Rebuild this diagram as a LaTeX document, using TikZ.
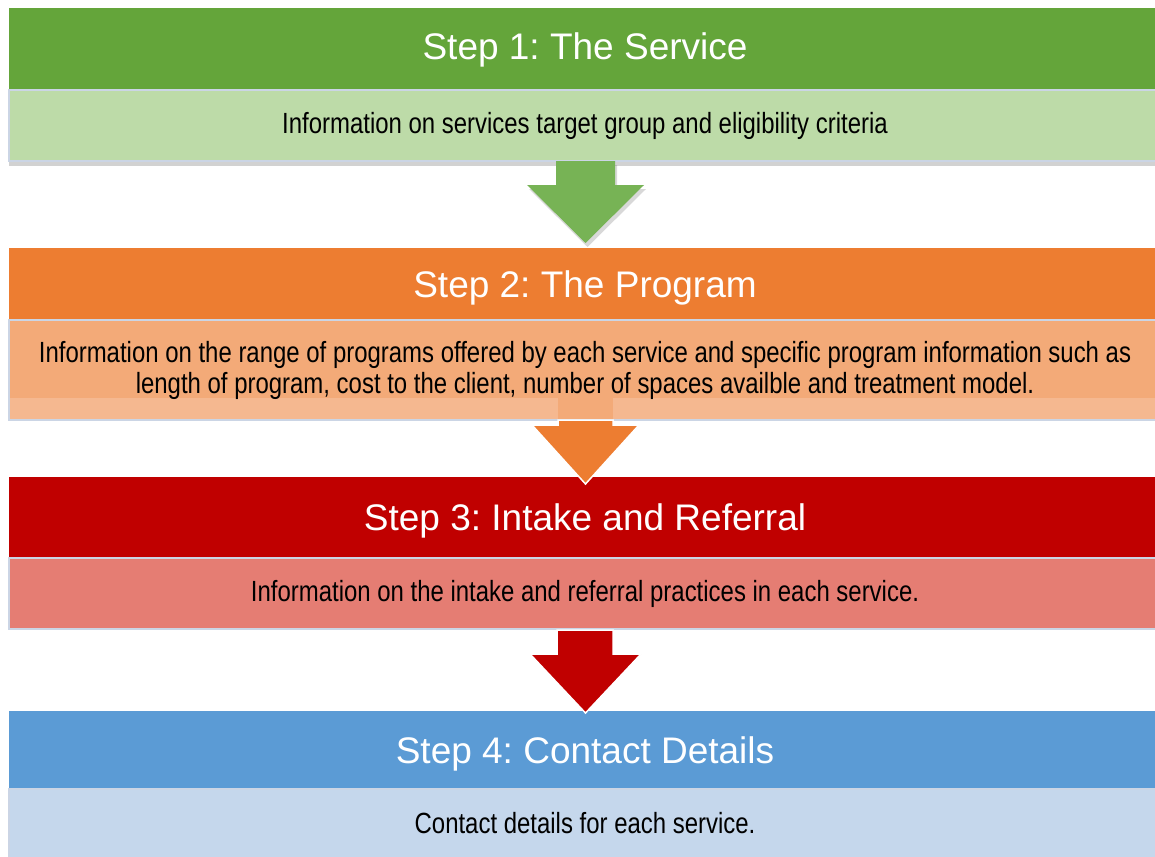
\documentclass[tikz,border=0pt]{standalone}
\usepackage{fontspec}
\setmainfont{Liberation Sans}
\newfontfamily\narrowfont[FakeStretch=0.82]{Liberation Sans}
\usetikzlibrary{positioning, calc, shadows}
\frenchspacing

\definecolor{grnhead}{HTML}{64A53A}
\definecolor{grnbody}{HTML}{BDDBA8}
\definecolor{grnarrow}{HTML}{77B355}
\definecolor{orghead}{HTML}{ED7D31}
\definecolor{orgbody}{HTML}{F3AA78}
\definecolor{orgstrip}{HTML}{F5B890}
\definecolor{redhead}{HTML}{C00000}
\definecolor{redbody}{HTML}{E57D73}
\definecolor{bluhead}{HTML}{5B9BD5}
\definecolor{blubody}{HTML}{C5D7EC}
\definecolor{barline}{HTML}{CBD5E5}

\begin{document}
\begin{tikzpicture}[x=0.5pt, y=-0.5pt,
    headbar/.style={minimum width=576pt, inner sep=0pt, outer sep=0pt, text=white,
        font=\fontsize{18.5}{22}\selectfont, text height=13.3pt, text depth=0pt},
    bodybar/.style={minimum width=576pt, inner sep=0pt, outer sep=0pt, draw=barline,
        line width=0.75pt, text=black, align=center,
        font=\narrowfont\fontsize{14.6}{15.5}\selectfont},
    oneline/.style={text height=10.45pt, text depth=2pt},
    arrowedge/.style={draw=white, line width=0.75pt, line join=miter}]
    \clip (0,0) rectangle (1155,856);
    \fill[white] (0,0) rectangle (1155,856);

    % Step 1
    \node[headbar, fill=grnhead, minimum height=41pt, text depth=2.7pt] (head1) at (585,49) {Step 1: The Service};
    \node[bodybar, oneline, fill=grnbody, minimum height=35.5pt,
        drop shadow={opacity=0.35, shadow xshift=0pt, shadow yshift=-2.5pt},
        below=0pt of head1] (body1) {Information on services target group and eligibility criteria};

    % Step 2
    \node[headbar, fill=orghead, minimum height=36pt] (head2) at (585,284) {Step 2: The Program};
    \node[bodybar, fill=orgstrip, minimum height=50pt, below=0pt of head2,
        path picture={\fill[orgbody] (path picture bounding box.north west)
            rectangle ([yshift=11pt]path picture bounding box.south east);
          \fill[orgbody] ([xshift=-13.75pt]path picture bounding box.south)
            rectangle ([xshift=13.75pt,yshift=11pt]path picture bounding box.south);}]
        (body2) {Information on the range of programs offered by each service and specific program information such as\\
        length of program, cost to the client, number of spaces availble and treatment model.};

    % Step 3
    \node[headbar, fill=redhead, minimum height=40.5pt] (head3) at (585,517.5) {Step 3: Intake and Referral};
    \node[bodybar, oneline, fill=redbody, minimum height=35.5pt,
        below=0pt of head3] (body3) {Information on the intake and referral practices in each service.};

    % Step 4
    \node[headbar, fill=bluhead, minimum height=39pt] (head4) at (585,750) {Step 4: Contact Details};
    \node[bodybar, oneline, fill=blubody, minimum height=36pt,
        below=0pt of head4] (body4) {Contact details for each service.};

    % block arrows between the steps
    \fill[grnarrow, drop shadow={opacity=0.3, shadow xshift=1pt, shadow yshift=-2pt}]
        ($(body1.south)+(-29,0)$) -- ($(body1.south)+(30,0)$) -- ($(body1.south)+(30,24)$)
        -- ($(body1.south)+(59,24)$) -- ($(head2.north)+(0.5,-5)$)
        -- ($(body1.south)+(-58,24)$) -- ($(body1.south)+(-29,24)$) -- cycle;
    \path[fill=orghead, arrowedge]
        ($(body2.south)+(-27,0)$) -- ($(body2.south)+(28,0)$) -- ($(body2.south)+(28,5)$)
        -- ($(body2.south)+(54,5)$) -- ($(head3.north)+(0.5,7)$)
        -- ($(body2.south)+(-53,5)$) -- ($(body2.south)+(-27,5)$) -- cycle;
    \path[fill=redhead, arrowedge]
        ($(body3.south)+(-28,1)$) -- ($(body3.south)+(28,1)$) -- ($(body3.south)+(28,25)$)
        -- ($(body3.south)+(56,25)$) -- ($(head4.north)+(0.5,2)$)
        -- ($(body3.south)+(-55,25)$) -- ($(body3.south)+(-28,25)$) -- cycle;
\end{tikzpicture}
\end{document}
